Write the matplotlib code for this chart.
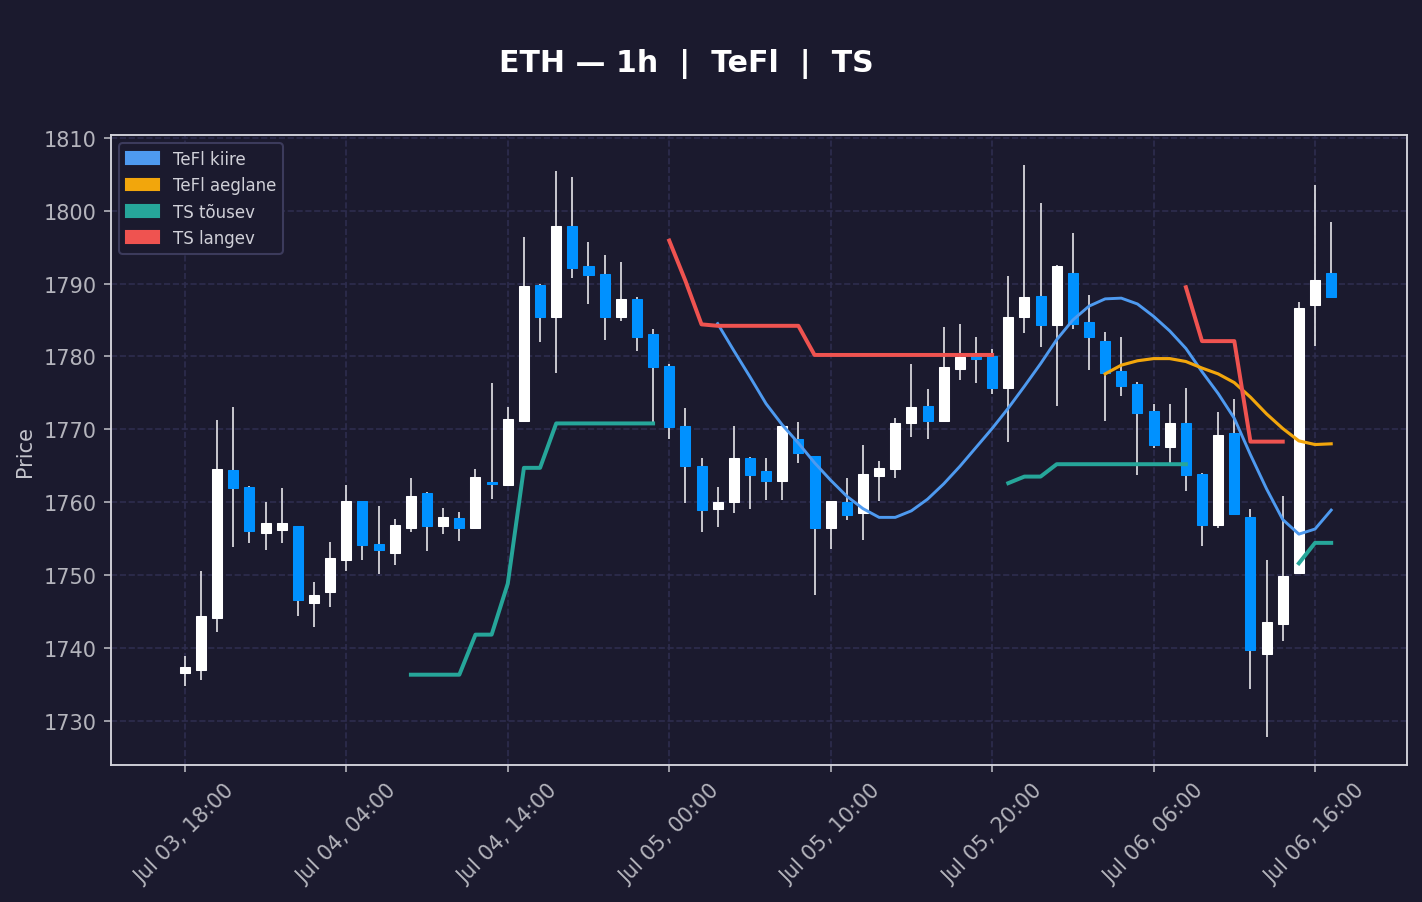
import numpy as np
import pandas as pd
import matplotlib
matplotlib.use("Agg")
import matplotlib.pyplot as plt
import matplotlib.dates as mdates
from matplotlib.patches import Patch

N = None

# hourly candles, Jul 03 18:00 .. Jul 06 17:00
opens = [1736.6, 1737.0, 1744.1, 1764.4, 1762.1, 1755.7, 1756.2, 1756.7, 1746.1, 1747.6,
         1752.1, 1760.1, 1754.3, 1753.0, 1756.5, 1761.3, 1756.7, 1757.8, 1756.4, 1762.7,
         1762.4, 1771.2, 1789.8, 1785.4, 1797.9, 1792.4, 1791.3, 1785.4, 1787.9, 1783.1,
         1778.7, 1770.5, 1765.0, 1759.1, 1760.0, 1766.1, 1764.2, 1762.9, 1768.7, 1766.3,
         1756.4, 1760.0, 1758.5, 1763.6, 1764.6, 1770.9, 1773.2, 1771.1, 1778.3, 1780.0,
         1780.0, 1775.6, 1785.4, 1788.3, 1784.3, 1791.4, 1784.7, 1782.1, 1778.0, 1776.2,
         1772.5, 1767.6, 1770.8, 1763.9, 1756.8, 1769.5, 1758.0, 1739.1, 1743.2, 1750.2,
         1787.1, 1791.5]
highs = [1738.9, 1750.5, 1771.3, 1773.0, 1762.2, 1760.0, 1761.9, 1756.7, 1749.0, 1754.5,
         1762.3, 1760.2, 1759.4, 1757.7, 1763.3, 1761.4, 1759.2, 1758.6, 1764.6, 1776.4,
         1773.1, 1796.4, 1790.0, 1805.4, 1804.6, 1795.7, 1793.9, 1792.9, 1788.2, 1783.7,
         1779.0, 1772.9, 1766.1, 1762.1, 1770.5, 1766.2, 1766.0, 1770.6, 1771.0, 1766.3,
         1760.1, 1763.3, 1767.9, 1765.6, 1771.5, 1779.0, 1775.5, 1784.1, 1784.4, 1782.7,
         1781.0, 1791.1, 1806.3, 1801.1, 1792.5, 1797.0, 1788.5, 1783.3, 1782.6, 1776.5,
         1773.5, 1773.5, 1775.6, 1764.0, 1772.3, 1774.1, 1759.0, 1752.0, 1760.9, 1787.5,
         1803.5, 1798.4]
lows = [1734.8, 1735.6, 1742.1, 1753.9, 1754.4, 1753.4, 1754.4, 1744.3, 1742.9, 1745.6,
        1750.5, 1752.1, 1750.1, 1751.4, 1755.9, 1753.3, 1755.6, 1754.7, 1756.4, 1760.4,
        1762.4, 1771.2, 1782.0, 1777.7, 1790.7, 1787.2, 1782.3, 1784.9, 1780.8, 1770.8,
        1768.6, 1759.9, 1755.9, 1756.6, 1758.5, 1759.1, 1760.3, 1760.3, 1765.4, 1747.2,
        1753.6, 1757.6, 1754.8, 1760.2, 1763.3, 1769.0, 1768.6, 1771.1, 1776.7, 1776.4,
        1774.8, 1768.3, 1783.2, 1781.3, 1773.2, 1783.8, 1778.1, 1771.1, 1774.6, 1763.7,
        1767.4, 1765.4, 1761.5, 1754.0, 1756.4, 1758.2, 1734.4, 1727.8, 1740.9, 1750.2,
        1781.4, 1788.2]
closes = [1737.4, 1744.3, 1764.6, 1761.9, 1756.0, 1757.1, 1757.1, 1746.5, 1747.3, 1752.3,
          1760.1, 1754.1, 1753.4, 1756.8, 1760.9, 1756.7, 1757.9, 1756.5, 1763.4, 1762.5,
          1771.4, 1789.6, 1785.4, 1797.9, 1792.2, 1791.2, 1785.4, 1787.9, 1782.7, 1778.5,
          1770.3, 1764.9, 1758.9, 1760.0, 1766.1, 1763.7, 1762.9, 1770.5, 1766.7, 1756.4,
          1760.1, 1758.2, 1763.8, 1764.7, 1770.8, 1773.1, 1771.1, 1778.5, 1779.9, 1779.6,
          1775.6, 1785.4, 1788.1, 1784.3, 1792.4, 1784.5, 1782.7, 1777.7, 1776.0, 1772.2,
          1767.8, 1770.8, 1763.7, 1756.8, 1769.2, 1758.4, 1739.7, 1743.6, 1749.8, 1786.7,
          1790.5, 1788.2]

tefl_fast = [N] * 33 + [
    1784.5, 1780.8, 1777.2, 1773.5, 1770.6, 1768.1, 1765.4, 1763.0, 1760.8, 1759.1,
    1757.9, 1757.9, 1758.8, 1760.4, 1762.5, 1764.9, 1767.5, 1770.1, 1772.9, 1775.9,
    1779.0, 1782.3, 1785.0, 1786.9, 1787.9, 1788.0, 1787.2, 1785.5, 1783.5, 1781.1,
    1777.9, 1774.9, 1771.5, 1766.5, 1761.8, 1757.6, 1755.6, 1756.3, 1758.9]
tefl_slow = [N] * 57 + [
    1777.6, 1778.8, 1779.4, 1779.7, 1779.7, 1779.3, 1778.4, 1777.6, 1776.4, 1774.4,
    1772.1, 1770.1, 1768.4, 1767.9, 1768.0]
ts_up = ([N] * 14 +
         [1736.3, 1736.3, 1736.3, 1736.3, 1741.8, 1741.8, 1748.8, 1764.7, 1764.7, 1770.8,
          1770.8, 1770.8, 1770.8, 1770.8, 1770.8, 1770.8] +
         [N] * 21 +
         [1762.6, 1763.5, 1763.5, 1765.2, 1765.2, 1765.2, 1765.2, 1765.2, 1765.2, 1765.2,
          1765.2, 1765.2] +
         [N] * 6 +
         [1751.6, 1754.4, 1754.4])
ts_down = ([N] * 30 +
           [1795.9, 1790.4, 1784.4, 1784.2, 1784.2, 1784.2, 1784.2, 1784.2, 1784.2, 1780.2,
            1780.2, 1780.2, 1780.2, 1780.2, 1780.2, 1780.2, 1780.2, 1780.2, 1780.2, 1780.2,
            1780.2] +
           [N] * 11 +
           [1789.5, 1782.1, 1782.1, 1782.1, 1768.3, 1768.3, 1768.3] +
           [N] * 3)

times = pd.date_range("2023-07-03 18:00", periods=len(opens), freq="h")

BG = "#1b1a2e"
UP = "#ffffff"
DOWN = "#0091ff"
C_FAST = "#4e9af0"
C_SLOW = "#f2a60c"
C_UP = "#26a69a"
C_DOWN = "#ef5350"

fig = plt.figure(figsize=(9.48, 6.02), dpi=150, facecolor=BG)
ax = fig.add_axes([0.078, 0.1517, 0.9115, 0.6977])
ax.set_facecolor(BG)

x = mdates.date2num(times)
o = np.array(opens); h = np.array(highs); l = np.array(lows); c = np.array(closes)
colors = np.where(c >= o, UP, DOWN)
w = 0.62 / 24

ax.vlines(x, l, h, color="#e6e6ea", linewidth=0.8, zorder=2)
body_h = np.maximum(np.abs(c - o), 0.15)
ax.bar(x, body_h, bottom=np.minimum(o, c), width=w, color=colors,
       edgecolor=colors, linewidth=0.5, zorder=3)

def arr(v):
    return np.array([np.nan if a is None else a for a in v], dtype=float)

ax.plot(x, arr(tefl_fast), color=C_FAST, lw=1.4, zorder=4)
ax.plot(x, arr(tefl_slow), color=C_SLOW, lw=1.5, zorder=4)
ax.plot(x, arr(ts_up), color=C_UP, lw=1.9, zorder=4)
ax.plot(x, arr(ts_down), color=C_DOWN, lw=1.9, zorder=4)

ax.set_xlim(x[0] - 4.58 / 24, x[0] + 75.7 / 24)
ax.set_ylim(1723.9, 1810.4)
ax.set_yticks([1730, 1740, 1750, 1760, 1770, 1780, 1790, 1800, 1810])

ticks = pd.date_range("2023-07-03 18:00", "2023-07-06 16:00", freq="10h")
ax.set_xticks(mdates.date2num(ticks))
ax.xaxis.set_major_formatter(mdates.DateFormatter("%b %d, %H:%M"))
plt.setp(ax.get_xticklabels(), rotation=45)

ax.grid(True, color="#2e2d4e", linestyle="--", linewidth=0.8)
ax.set_axisbelow(True)
ax.tick_params(colors="#b4b4bc", labelsize=10)
for s in ax.spines.values():
    s.set_color("#d4d4dc")
    s.set_linewidth(0.9)
ax.set_ylabel("Price", color="#c4c4cc", fontsize=10)

handles = [Patch(color=C_FAST, label="TeFl kiire"),
           Patch(color=C_SLOW, label="TeFl aeglane"),
           Patch(color=C_UP, label="TS tõusev"),
           Patch(color=C_DOWN, label="TS langev")]
leg = ax.legend(handles=handles, loc="upper left", fontsize=8,
                labelspacing=0.5, facecolor=BG, edgecolor="#3c3b5c",
                labelcolor="#d0d0d8", framealpha=1.0)

fig.text(0.483, 0.929, "ETH — 1h  |  TeFl  |  TS", color="white",
         fontsize=14.4, fontweight="bold", ha="center", va="center")

fig.savefig("out.png", dpi=150, facecolor=BG)
